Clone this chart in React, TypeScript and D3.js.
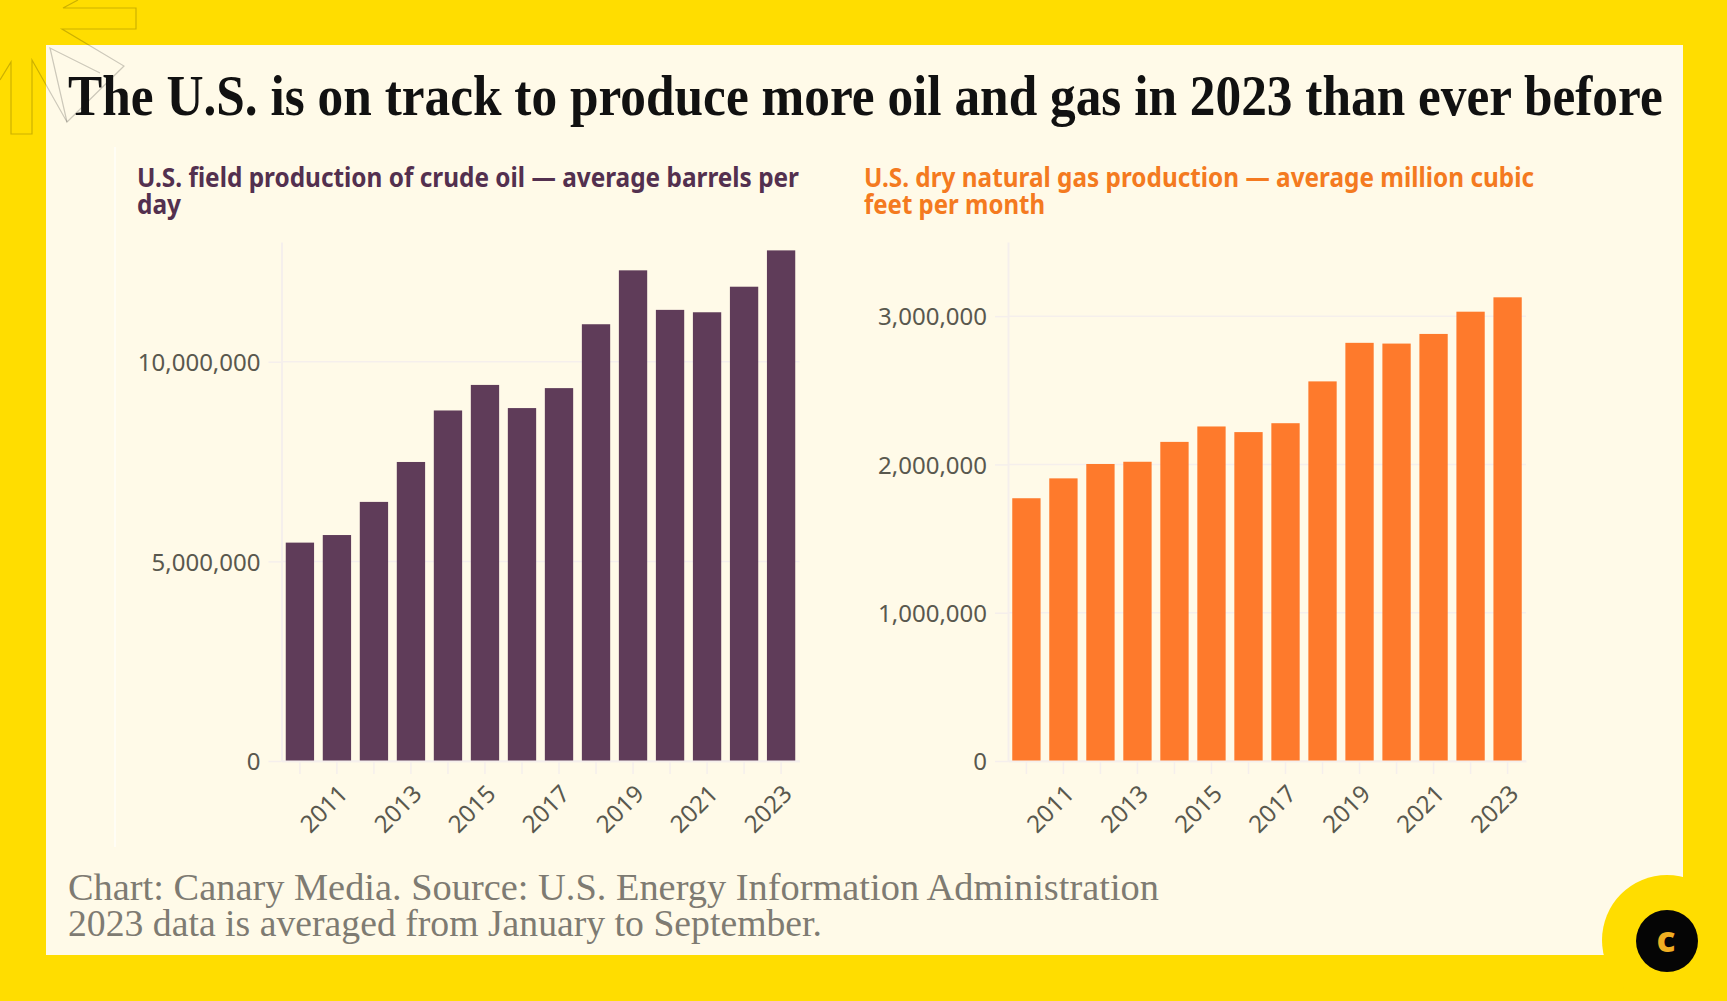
import { useEffect, useRef } from "react"
import * as d3 from "d3"

const years = [2010, 2011, 2012, 2013, 2014, 2015, 2016, 2017, 2018, 2019, 2020, 2021, 2022, 2023]

// average barrels per day
const oilValues = [5470000, 5660000, 6490000, 7490000, 8780000, 9420000, 8840000, 9340000, 10940000, 12290000, 11300000, 11240000, 11880000, 12790000]
const oilTicks = [0, 5000000, 10000000]

// average million cubic feet per month
const gasValues = [1772000, 1906000, 2003000, 2018000, 2152000, 2256000, 2218000, 2278000, 2560000, 2820000, 2815000, 2880000, 3030000, 3127000]
const gasTicks = [0, 1000000, 2000000, 3000000]

const titleText = "The U.S. is on track to produce more oil and gas in 2023 than ever before"
const oilTitle = ["U.S. field production of crude oil — average barrels per", "day"]
const gasTitle = ["U.S. dry natural gas production — average million cubic", "feet per month"]
const captionLines = [
  "Chart: Canary Media. Source: U.S. Energy Information Administration",
  "2023 data is averaged from January to September.",
]

const YELLOW = "#ffdd00"
const PAPER = "#fffae8"
const GRID = "#f5efec"
const SANS = "'Noto Sans', sans-serif"
const SERIF = "'Liberation Serif', serif"
const STEP = 37

type Sel = d3.Selection<SVGSVGElement, unknown, null, undefined>

const drawPanel = (
  svg: Sel,
  values: number[],
  ticks: number[],
  maxY: number,
  left: number,
  color: string,
) => {
  const x = d3.scaleBand<number>()
    .domain(years)
    .range([left, left + STEP * years.length])
    .paddingInner(0.235)
    .paddingOuter(0.115)
  const y = d3.scaleLinear().domain([0, maxY]).range([761, 242])

  const g = svg.append("g")

  // Gridlines
  g.selectAll("line.grid")
    .data(ticks)
    .join("line")
    .attr("class", "grid")
    .attr("x1", left)
    .attr("x2", left + STEP * years.length)
    .attr("y1", d => y(d))
    .attr("y2", d => y(d))
    .attr("stroke", GRID)
    .attr("stroke-width", 1.5)

  // Bars
  g.selectAll("rect")
    .data(values)
    .join("rect")
    .attr("x", (_, i) => x(years[i]) as number)
    .attr("y", d => y(d))
    .attr("width", x.bandwidth())
    .attr("height", d => 761 - y(d))
    .attr("fill", color)

  // Y axis
  const yAxis = g.append("g")
    .attr("transform", `translate(${left},0)`)
    .call(d3.axisLeft(y).tickValues(ticks).tickSize(13).tickSizeOuter(0).tickPadding(8).tickFormat(d3.format(",") as any))
  yAxis.select(".domain").attr("stroke", GRID).attr("stroke-width", 2)
  yAxis.selectAll(".tick line").attr("stroke", GRID).attr("stroke-width", 1.5)
  yAxis.selectAll(".tick text")
    .attr("font-family", SANS)
    .attr("font-size", 24)
    .attr("fill", "#59584e")
    .attr("transform", "translate(0,1)")

  // X axis
  const xAxis = g.append("g")
    .attr("transform", "translate(0,761)")
    .call(d3.axisBottom(x).tickSize(13).tickSizeOuter(0).tickFormat(d => (d % 2 === 1 ? String(d) : "")))
  xAxis.select(".domain").attr("stroke", GRID).attr("stroke-width", 2)
  xAxis.selectAll(".tick line").attr("stroke", GRID).attr("stroke-width", 1.5)
  xAxis.selectAll(".tick text")
    .attr("font-family", SANS)
    .attr("font-size", 24)
    .attr("fill", "#59584e")
    .attr("text-anchor", "end")
    .attr("dy", 0)
    .attr("transform", "translate(1,23) rotate(-45)")
}

const App = () => {
  const ref = useRef<SVGSVGElement>(null)

  useEffect(() => {
    if (!ref.current) return
    const svg = d3.select(ref.current) as unknown as Sel
    svg.selectAll("*").remove()

    // Frame and paper
    svg.append("rect").attr("width", 1727).attr("height", 1001).attr("fill", YELLOW)
    svg.append("rect").attr("x", 46).attr("y", 45).attr("width", 1637).attr("height", 910).attr("fill", PAPER)

    // Logo corner
    svg.append("circle").attr("cx", 1667).attr("cy", 940).attr("r", 65).attr("fill", YELLOW)
    svg.append("circle").attr("cx", 1667).attr("cy", 941).attr("r", 31).attr("fill", "#050505")
    svg.append("text")
      .attr("x", 1666)
      .attr("y", 952)
      .attr("text-anchor", "middle")
      .attr("font-family", SANS)
      .attr("font-weight", 800)
      .attr("font-size", 36)
      .attr("fill", "#f0ae22")
      .text("c")

    // Decorative arrows top left
    const arrows = svg.append("g")
      .attr("fill", "none")
      .attr("stroke", "#000")
      .attr("stroke-opacity", 0.2)
      .attr("stroke-width", 1.2)
    arrows.append("path").attr("d", "M78,0 L63,8 L136,8 L136,29 L62,29 L124,66 L67,122 L50,48 L100,73")
    arrows.append("path").attr("d", "M0,80 L11,62 L11,134 L32,134 L32,60 L67,122")

    // White rule behind the charts
    svg.append("line")
      .attr("x1", 115).attr("x2", 115).attr("y1", 147).attr("y2", 847)
      .attr("stroke", "#fffdf5").attr("stroke-width", 2)

    // Title: squeezed horizontally to the reference width
    const title = svg.append("text")
      .attr("font-family", SERIF)
      .attr("font-weight", 700)
      .attr("font-size", 57)
      .attr("fill", "#111")
      .text(titleText)
    const titleWidth = (title.node() as SVGTextElement).getComputedTextLength()
    title.attr("transform", `translate(68,115) scale(${1595 / titleWidth},1)`)

    const subtitle = (lines: string[], x0: number, widths: number[], color: string) => {
      lines.forEach((line, i) => {
        svg.append("text")
          .attr("x", x0)
          .attr("y", 187 + i * 27)
          .attr("font-family", SANS)
          .attr("font-weight", 700)
          .attr("font-size", 26)
          .attr("fill", color)
          .attr("textLength", widths[i])
          .attr("lengthAdjust", "spacingAndGlyphs")
          .text(line)
      })
    }
    subtitle(oilTitle, 137, [662, 44], "#53304f")
    subtitle(gasTitle, 864, [670, 181], "#f47a20")

    drawPanel(svg, oilValues, oilTicks, 13000000, 281.5, "#5f3c59")
    drawPanel(svg, gasValues, gasTicks, 3500000, 1008, "#fe7a2c")

    captionLines.forEach((line, i) => {
      svg.append("text")
        .attr("x", 68)
        .attr("y", 900 + i * 36)
        .attr("font-family", SERIF)
        .attr("font-size", 38)
        .attr("fill", "#7e7b72")
        .attr("textLength", i === 0 ? 1091 : 754)
        .attr("lengthAdjust", "spacingAndGlyphs")
        .text(line)
    })
  }, [])

  return (
    <svg
      ref={ref}
      width={1727}
      height={1001}
      viewBox="0 0 1727 1001"
      style={{ position: "absolute", left: 0, top: 0, display: "block" }}
    />
  )
}

export default App
